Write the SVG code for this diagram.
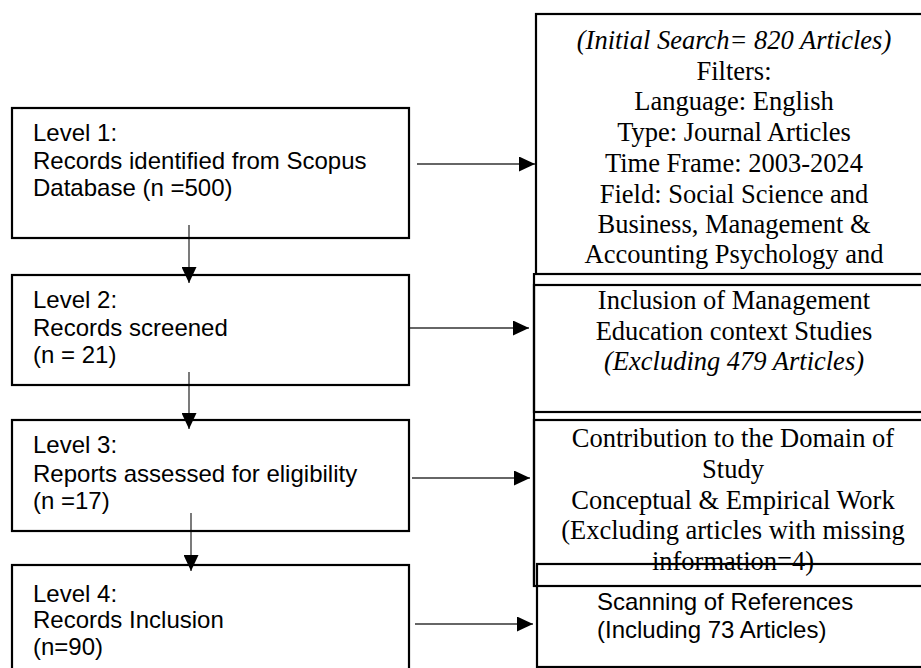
<svg xmlns="http://www.w3.org/2000/svg" width="921" height="668" viewBox="0 0 921 668">
<style>
.box{fill:none;stroke:#000;stroke-width:2.2}
.con{stroke:#333;stroke-width:1.3;fill:none}
.sans{font-family:"Liberation Sans",Arial,sans-serif;font-size:24px;fill:#000}
.serif{font-family:"Liberation Serif","Times New Roman",serif;font-size:26.5px;fill:#000;text-anchor:middle}
.it{font-style:italic}
</style>
<defs>
<marker id="ah" markerWidth="16" markerHeight="15" refX="16" refY="7.5" orient="auto" markerUnits="userSpaceOnUse">
<path d="M0,0 L16,7.5 L0,15 Z" fill="#000"/>
</marker>
</defs>
<rect width="921" height="668" fill="#fff"/>
<g id="connectors">
<line class="con" x1="189" y1="225" x2="189" y2="283" marker-end="url(#ah)"/>
<line class="con" x1="189" y1="372" x2="189" y2="429" marker-end="url(#ah)"/>
<line class="con" x1="191" y1="513" x2="191" y2="571" marker-end="url(#ah)"/>
<line class="con" x1="417" y1="164" x2="535" y2="164" marker-end="url(#ah)"/>
<line class="con" x1="410" y1="328" x2="529" y2="328" marker-end="url(#ah)"/>
<line class="con" x1="412" y1="478" x2="530" y2="478" marker-end="url(#ah)"/>
<line class="con" x1="415" y1="624" x2="533" y2="624" marker-end="url(#ah)"/>
</g>
<g id="level1">
<rect class="box" x="12" y="108" width="397" height="130"/>
<text class="sans" x="33" y="141">Level 1:</text>
<text class="sans" x="33" y="168.5">Records identified from Scopus</text>
<text class="sans" x="33" y="196">Database (n =500)</text>
</g>
<g id="level2">
<rect class="box" x="12" y="275" width="397" height="110"/>
<text class="sans" x="33" y="307.5">Level 2:</text>
<text class="sans" x="33" y="335.5">Records screened</text>
<text class="sans" x="33" y="363">(n = 21)</text>
</g>
<g id="level3">
<rect class="box" x="12" y="420" width="397" height="111"/>
<text class="sans" x="33" y="453">Level 3:</text>
<text class="sans" x="33" y="481.5">Reports assessed for eligibility</text>
<text class="sans" x="33" y="509">(n =17)</text>
</g>
<g id="level4">
<rect class="box" x="12" y="565" width="397" height="120"/>
<text class="sans" x="33" y="601.5">Level 4:</text>
<text class="sans" x="33" y="628">Records Inclusion</text>
<text class="sans" x="33" y="655">(n=90)</text>
</g>
<g id="filters">
<rect class="box" x="536" y="14" width="400" height="260"/>
<text class="serif it" x="734" y="49">(Initial Search= 820 Articles)</text>
<text class="serif" x="734" y="80">Filters:</text>
<text class="serif" x="734" y="110">Language: English</text>
<text class="serif" x="734" y="140.5">Type: Journal Articles</text>
<text class="serif" x="734" y="171.5">Time Frame: 2003-2024</text>
<text class="serif" x="734" y="202.5">Field: Social Science and</text>
<text class="serif" x="734" y="233">Business, Management &amp;</text>
<text class="serif" x="734" y="263">Accounting Psychology and</text>
</g>
<g id="inclusion">
<rect class="box" x="534" y="285" width="402" height="127"/>
<line class="box" x1="534" y1="273" x2="534" y2="587"/>
<text class="serif" x="734" y="309">Inclusion of Management</text>
<text class="serif" x="734" y="339.5">Education context Studies</text>
<text class="serif it" x="734" y="370">(Excluding 479 Articles)</text>
</g>
<g id="contribution">
<rect class="box" x="534" y="420" width="402" height="166"/>
<text class="serif" x="733" y="447">Contribution to the Domain of</text>
<text class="serif" x="733" y="477.5">Study</text>
<text class="serif" x="733" y="509">Conceptual &amp; Empirical Work</text>
<text class="serif" x="733" y="539">(Excluding articles with missing</text>
<text class="serif" x="733" y="570">information=4)</text>
</g>
<g id="scanning">
<rect class="box" x="537" y="564" width="400" height="103"/>
<text class="sans" x="597" y="610">Scanning of References</text>
<text class="sans" x="597" y="638">(Including 73 Articles)</text>
</g>
</svg>
